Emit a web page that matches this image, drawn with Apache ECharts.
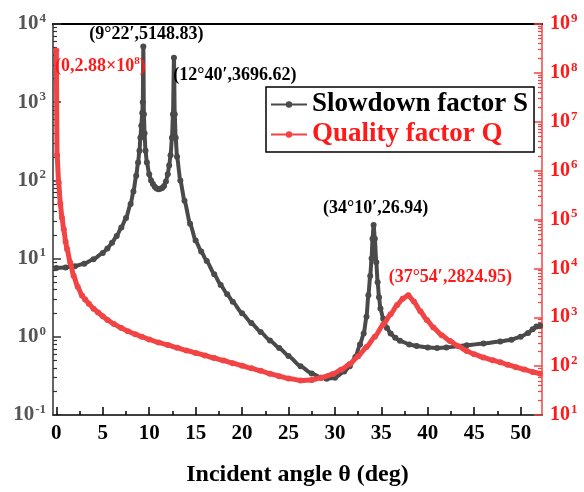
<!DOCTYPE html>
<html><head><meta charset="utf-8">
<script src="https://cdn.jsdelivr.net/npm/echarts@6/dist/echarts.min.js"></script>
<style>html,body{margin:0;padding:0;background:#fff}#c{width:584px;height:492px}</style>
</head><body><div id="c"></div>
<script>
// Slowdown factor S (left axis)
const sDeg = [0,1,2,3,4,5,5.5,6,6.5,7,7.5,8,8.3,8.6,8.8,8.95,9.05,9.15,9.25,9.31,9.367,9.43,9.5,9.6,9.75,10.0,10.2,10.4,10.6,10.8,11.0,11.2,11.4,11.6,11.8,12.0,12.15,12.3,12.45,12.56,12.667,12.75,12.85,13.0,13.35,13.8,14.4,15,15.6,16.2,17,17.7,18.4,19,20,21,22,23,24,25,26.3,27.5,28.5,29.1,30,31,31.6,32.2,32.7,33.1,33.4,33.6,33.8,33.95,34.05,34.167,34.3,34.45,34.6,34.75,34.9,35.2,35.6,36,36.5,37,38,38.8,40,41,42,44.2,46,47.8,49,50,50.8,51.3,51.7,52.1];
const sVal = [7.6,7.7,8.0,8.6,9.8,11.8,13.5,16,19.5,25,33,50,72,115,170,240,350,500,725,1000,5148.83,700,400,240,170,120,100,90,83,79,77,78,80,85,97,120,155,210,350,700,3696.62,700,350,200,100,55,28,17,12.3,9.3,6.3,4.6,3.5,2.8,2.0,1.5,1.15,0.9,0.72,0.57,0.42,0.34,0.30,0.29,0.30,0.36,0.42,0.55,0.8,1.1,1.8,3.4,6,10,18,26.94,18,9,5,3.2,2.3,1.7,1.3,1.1,0.97,0.89,0.8,0.76,0.73,0.72,0.73,0.78,0.82,0.87,0.92,1.0,1.12,1.25,1.35,1.38];
// Quality factor Q (right axis)
const qDeg = [0,0.08,0.25,0.43,0.6,0.8,1.0,1.15,1.5,1.86,2.3,2.76,3.1,3.5,4,4.5,5,5.5,6.2,7,7.7,8.5,9.2,10,11,12,13,14,15,16,17,18,19,20,21,22,23,24,25,26.3,27.5,28.5,29.8,30.7,31.6,32.5,33.4,34.3,35.2,36,36.7,37.3,37.9,38.5,39.2,39.9,40.6,41.5,42.4,43.3,44.2,45,46,47,47.8,48.6,49.5,50.4,51.3,52.1];
const qVal = [2.88e8,2.1e6,5.8e5,2.1e5,1.1e5,6.3e4,3.5e4,2.5e4,1.3e4,7.1e3,4.2e3,2.8e3,2.3e3,1.9e3,1.5e3,1.25e3,1.05e3,880,730,600,520,450,400,350,305,270,238,210,186,165,146,130,115,102,90,80,70,62,56,51,52,58,69,85,110,160,245,400,710,1150,1780,2400,2824.95,2100,1320,880,620,430,325,255,205,175,150,132,120,107,95,85,76,70];
const xTicks = [0,5,10,15,20,25,30,35,40,45,50];
const xMinorTicks = [2.5,7.5,12.5,17.5,22.5,27.5,32.5,37.5,42.5,47.5];
const seriesNames = ['Slowdown factor S','Quality factor Q'];
const annotationsS = [
  {coord:[9.367,5148.83], text:'(9°22′,5148.83)', offset:[3,-12]},
  {coord:[12.667,3696.62], text:'(12°40′,3696.62)', offset:[61,18]},
  {coord:[34.167,26.94], text:'(34°10′,26.94)', offset:[2,-17]}
];
const annotationsQ = [
  {coord:[0,2.88e8], text:'(0,2.88×10{sup|8})', offset:[44,16]},
  {coord:[37.9,2824.95], text:'(37°54′,2824.95)', offset:[42,-18]}
];

// minor tick positions of the log axes, expressed as exponents
function minorLogExp(e0, e1){ const r=[]; for(let e=e0;e<e1;e++){for(let m=2;m<=9;m++){r.push(e+Math.log10(m));}} return r; }
const leftMinor = minorLogExp(-1,4);
const rightMinor = minorLogExp(1,9);

const FONT = "'Liberation Serif','Times New Roman',serif";
const GRAY = '#4a4a4a';
const RED = '#f24444';
const RED_TXT = '#ff1a1a';

function expLabel(v){ const e=Math.round(Math.log10(v)); return '{b|10}{s|'+(e<0?'-'+(-e):e)+'}'; }
function richFor(color, fs){
  return { b:{fontSize:fs,fontWeight:'bold',color:color,fontFamily:FONT},
           s:{fontSize:13,fontWeight:'bold',color:color,fontFamily:FONT,padding:[0,0,11,1]} };
}

const chart = echarts.init(document.getElementById('c'), null, {renderer:'canvas'});
const grid = {left:53,right:42,top:24,bottom:70};
function mp(list, color){
  return {
    symbol:'circle', symbolSize:1, itemStyle:{color:'rgba(0,0,0,0)'},
    data: list.map(a=>({coord:a.coord, label:{show:true, formatter:a.text, position:'inside', offset:a.offset,
      color:color, fontSize:18, fontWeight:'bold', fontFamily:FONT,
      rich:{sup:{fontSize:11,fontWeight:'bold',color:color,fontFamily:FONT,padding:[0,0,10,0]}}}}))
  };
}
chart.setOption({
  animation:false,
  backgroundColor:'#fff',
  grid:grid,
  legend:{
    left:266, top:87, orient:'vertical', itemGap:3, padding:[4,6,4,4],
    borderColor:'#000', borderWidth:1.5, backgroundColor:'#fff',
    itemWidth:36, itemHeight:8, lineStyle:{width:2},
    textStyle:{fontFamily:FONT,fontWeight:'bold',fontSize:27},
    data:[{name:seriesNames[0],textStyle:{color:'#000'}},{name:seriesNames[1],textStyle:{color:RED_TXT}}]
  },
  xAxis:[
    {type:'value', min:-0.36, max:52.3, position:'bottom',
     axisLine:{onZero:false,lineStyle:{color:'#000',width:1.5}},
     axisTick:{inside:true,length:8,customValues:xTicks,lineStyle:{color:'#000',width:1.5}},
     axisLabel:{customValues:xTicks,margin:8,color:'#000',fontSize:21,fontWeight:'bold',fontFamily:FONT},
     splitLine:{show:false},
     name:'Incident angle θ (deg)', nameLocation:'middle', nameGap:48,
     nameTextStyle:{color:'#000',fontSize:24,fontWeight:'bold',fontFamily:FONT}},
    {type:'value', min:-0.36, max:52.3, position:'bottom',
     axisLine:{show:false,onZero:false}, axisLabel:{show:false}, splitLine:{show:false},
     axisTick:{inside:true,length:4,customValues:xMinorTicks,lineStyle:{color:'#000',width:1.5}}},
    {type:'value', min:-0.36, max:52.3, position:'top',
     axisLine:{onZero:false,lineStyle:{color:'#000',width:2}}, axisLabel:{show:false}, axisTick:{show:false}, splitLine:{show:false}}
  ],
  yAxis:[
    {type:'log', logBase:10, min:0.1, max:1e4, position:'left', interval:1,
     axisLine:{show:true,onZero:false,lineStyle:{color:'#333',width:1.5}},
     axisTick:{inside:true,length:8,lineStyle:{color:'#333',width:1.5}},
     axisLabel:{formatter:expLabel,margin:7,rich:richFor('#555',21)},
     splitLine:{show:false}},
    {type:'log', logBase:10, min:10, max:1e9, position:'right', interval:1,
     axisLine:{show:true,onZero:false,lineStyle:{color:RED,width:1.5}},
     axisTick:{inside:true,length:8,lineStyle:{color:RED,width:1.5}},
     axisLabel:{formatter:expLabel,margin:8,rich:richFor(RED_TXT,20)},
     splitLine:{show:false}},
    {type:'value', min:-1, max:4, position:'left',
     axisLine:{show:false,onZero:false}, axisLabel:{show:false}, splitLine:{show:false},
     axisTick:{inside:true,length:4,customValues:leftMinor,lineStyle:{color:'#333',width:1.2}}},
    {type:'value', min:1, max:9, position:'right',
     axisLine:{show:false,onZero:false}, axisLabel:{show:false}, splitLine:{show:false},
     axisTick:{inside:true,length:4,customValues:rightMinor,lineStyle:{color:RED,width:1.2}}}
  ],
  series:[
    {type:'line', name:seriesNames[0], xAxisIndex:0, yAxisIndex:0,
     data:sDeg.map((d,i)=>[d,sVal[i]]), symbol:'circle', symbolSize:6, showAllSymbol:true,
     smooth:0.2, smoothMonotone:'x',
     lineStyle:{width:4,color:GRAY}, itemStyle:{color:GRAY}, z:3, clip:true,
     markPoint:mp(annotationsS,'#000')},
    {type:'line', name:seriesNames[1], xAxisIndex:0, yAxisIndex:1,
     data:qDeg.map((d,i)=>[d,qVal[i]]), symbol:'circle', symbolSize:6, showAllSymbol:true,
     smooth:0.2, smoothMonotone:'x',
     lineStyle:{width:5,color:RED}, itemStyle:{color:RED}, z:4, clip:true,
     markPoint:mp(annotationsQ,RED_TXT)}
  ]
});
</script></body></html>
